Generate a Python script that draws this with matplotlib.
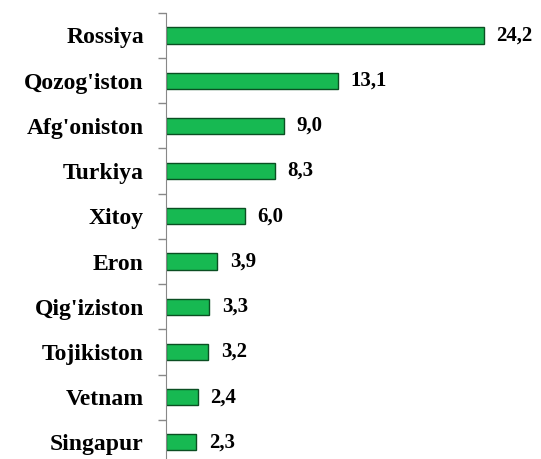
import matplotlib.pyplot as plt
import numpy as np

countries = ["Rossiya", "Qozog'iston", "Afg'oniston", "Turkiya", "Xitoy",
             "Eron", "Qig'iziston", "Tojikiston", "Vetnam", "Singapur"]
values = [24.2, 13.1, 9.0, 8.3, 6.0, 3.9, 3.3, 3.2, 2.4, 2.3]
value_labels = ["24,2", "13,1", "9,0", "8,3", "6,0", "3,9", "3,3", "3,2", "2,4", "2,3"]

fig = plt.figure(figsize=(5.41, 4.59), dpi=100)
ax = fig.add_axes([0.307, -0.013, 0.68, 0.985])

y = np.arange(len(countries))
ax.barh(y, values, height=0.36, color='#17b952', edgecolor='#0a4f22', linewidth=1.0)

for yi, v, lab in zip(y, values, value_labels):
    ax.annotate(lab, (v, yi), xytext=(9, 0), textcoords='offset points',
                va='center', ha='left', fontsize=15, fontweight='bold',
                family='Liberation Serif')

ax.set_ylim(len(countries) - 0.5, -0.5)
ax.set_xlim(0, 28)

ax.set_yticks(y)
ax.set_yticklabels(countries, fontsize=17, fontweight='bold', family='Liberation Serif')
ax.tick_params(axis='y', which='major', length=0, pad=16)
ax.set_yticks(np.arange(-0.5, len(countries), 1.0), minor=True)
ax.tick_params(axis='y', which='minor', length=6, width=1, color='#888888')

ax.set_xticks([])
for s in ['top', 'right', 'bottom']:
    ax.spines[s].set_visible(False)
ax.spines['left'].set_color('#888888')

plt.savefig('out.png', dpi=100)
